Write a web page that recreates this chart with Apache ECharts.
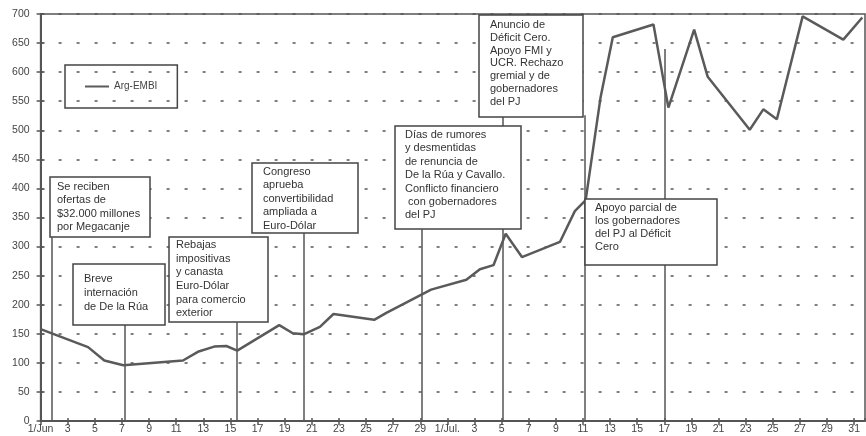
<!DOCTYPE html>
<html>
<head>
<meta charset="utf-8">
<script src="https://cdn.jsdelivr.net/npm/echarts@6/dist/echarts.min.js"></script>
<style>
html,body{margin:0;padding:0;background:#fff;}
#chart{width:866px;height:436px;}
</style>
</head>
<body>
<div id="chart"></div>
<script>
// Days counted from 1 June 2001 (0 = 1/Jun, 30 = 1/Jul)
const dayIndex = [0, 3.5, 4.7, 6.1, 10.5, 11.6, 12.8, 13.7, 14.5, 17.6, 18.6, 19.4, 20.6, 21.6, 24.6, 25.5, 28.8, 31.4, 32.4, 33.4, 34.3, 35.5, 38.3, 39.4, 40.2, 41.3, 42.2, 45.2, 46.3, 48.2, 49.2, 52.3, 53.3, 54.3, 56.2, 59.2, 60.6];
const embi = [158, 127, 104, 96, 104, 119, 128, 129, 121, 165, 151, 149, 162, 184, 174, 186, 226, 243, 261, 268, 322, 282, 308, 361, 380, 557, 660, 682, 539, 673, 592, 501, 536, 519, 696, 656, 694];

const tickLabels = ['1/Jun','3','5','7','9','11','13','15','17','19','21','23','25','27','29',
  '1/Jul.','3','5','7','9','11','13','15','17','19','21','23','25','27','29','31'];

// Event leader lines: day index and the value where each line starts
const leaderDays = [0.8, 6.2, 14.45, 19.4, 28.1, 34.1, 40.1, 46.0];
const leaderTops = [316, 165, 170, 323, 330, 526, 526, 640];

const notes = [
  {r:[50,177,100,60], t:[57,180.3], lh:13.3, lines:['Se reciben','ofertas de','$32.000 millones','por Megacanje']},
  {r:[73,264,92,61], t:[84,272], lh:14, lines:['Breve','internación','de De la Rúa']},
  {r:[169,237,99,85], t:[176,238.4], lh:13.6, lines:['Rebajas','impositivas','y canasta','Euro-Dólar','para comercio','exterior']},
  {r:[252,163,106,70], t:[263,165.3], lh:13.4, lines:['Congreso','aprueba','convertibilidad','ampliada a','Euro-Dólar']},
  {r:[395,126,126,103], t:[405,128.3], lh:13.4, lines:['Días de rumores','y desmentidas','de renuncia de','De la Rúa y Cavallo.','Conflicto financiero',' con gobernadores','del PJ']},
  {r:[479,15,104,102], t:[490,18.6], lh:12.8, lines:['Anuncio de','Déficit Cero.','Apoyo FMI y','UCR. Rechazo','gremial y de','gobernadores','del PJ']},
  {r:[585,199,132,66], t:[595,201.5], lh:12.9, lines:['Apoyo parcial de','los gobernadores','del PJ al Déficit','Cero']}
];

const FONT = '"Liberation Sans", Arial, sans-serif';
const AX = '#555';

const chart = echarts.init(document.getElementById('chart'), null, {renderer:'canvas'});

const graphics = [];
notes.forEach(n => {
  graphics.push({type:'rect', z:100, zlevel:1, shape:{x:n.r[0], y:n.r[1], width:n.r[2], height:n.r[3]},
     style:{fill:'#fff', stroke:'#444', lineWidth:1.5}});
  graphics.push({type:'text', z:101, zlevel:1, style:{x:n.t[0], y:n.t[1], text:n.lines.join('\n'), fill:'#333',
     font:'11px ' + FONT, lineHeight:n.lh, verticalAlign:'top'}});
});

chart.setOption({
  animation:false,
  backgroundColor:'#fff',
  grid:{left:40.6, right:1, top:14, bottom:15, show:true, borderColor:AX, borderWidth:1.5, backgroundColor:'transparent'},
  legend:{
    left:65, top:65, padding:[16.5,20,16.5,20], borderColor:'#444', borderWidth:1.5,
    icon:'rect', itemWidth:24, itemHeight:2,
    textStyle:{fontSize:10, color:'#444', fontFamily:FONT},
    data:['Arg-EMBI']
  },
  xAxis:[
    {type:'value', min:0, max:60.8, interval:2,
     axisLine:{show:true, lineStyle:{color:AX, width:2}},
     axisTick:{show:true, length:4, lineStyle:{color:AX, width:1.5}},
     splitLine:{show:false},
     axisLabel:{color:'#444', fontSize:10.5, fontFamily:FONT, margin:3, showMaxLabel:false,
       formatter: v => tickLabels[Math.round(v/2)] || ''}},
    {type:'value', min:0, max:60.8, interval:2, position:'bottom',
     axisLine:{show:false}, axisLabel:{show:false}, splitLine:{show:false},
     axisTick:{show:true, inside:true, length:3, lineStyle:{color:AX, width:1.5}}}
  ],
  yAxis:[
    {type:'value', min:0, max:700, interval:50,
     axisLine:{show:true, lineStyle:{color:AX, width:2}},
     axisTick:{show:true, length:4, lineStyle:{color:AX, width:1.5}},
     axisLabel:{color:'#444', fontSize:10.5, fontFamily:FONT, margin:11},
     splitLine:{show:true, lineStyle:{color:'#555', width:1.5, type:[3,15]}}},
    {type:'value', min:0, max:700, interval:50, position:'left',
     axisLine:{show:false}, axisLabel:{show:false}, splitLine:{show:false},
     axisTick:{show:true, inside:true, length:4, lineStyle:{color:AX, width:1.5}}}
  ],
  series:[
    {name:'Arg-EMBI', type:'line', xAxisIndex:0, yAxisIndex:0,
     data: dayIndex.map((d,i) => [d, embi[i]]),
     symbol:'none', color:'#5a5a5a',
     lineStyle:{color:'#5a5a5a', width:2.5}, z:5,
     markLine:{silent:true, symbol:['none','none'], label:{show:false},
       lineStyle:{color:'#555', width:1.5, type:'solid'},
       animation:false,
       data: leaderDays.map((d,i) => [{coord:[d, leaderTops[i]]}, {coord:[d, 0]}])}
    }
  ],
  graphic: graphics
});
</script>
</body>
</html>
